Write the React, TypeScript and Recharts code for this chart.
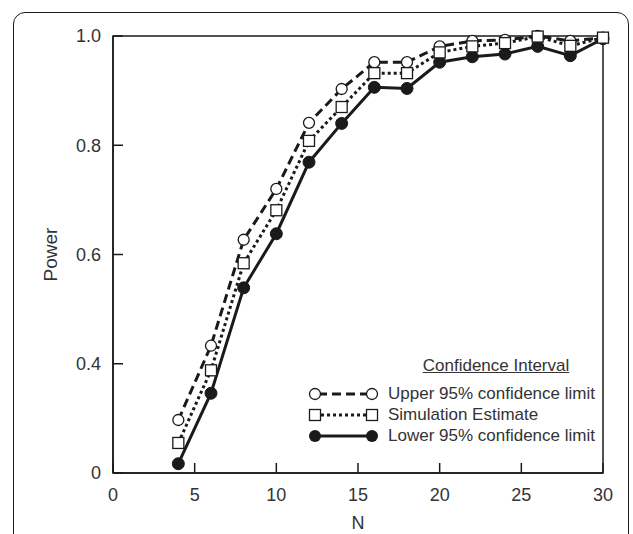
import { Line, LineChart, ReferenceArea, XAxis, YAxis } from 'recharts'

// sample sizes
const N = [4, 6, 8, 10, 12, 14, 16, 18, 20, 22, 24, 26, 28, 30]
// power values; the printed axis has equal spacing from "0" to 0.4, so the
// bottom gridline is stored as 0.2 and labelled "0" like the original figure
const UPPER = [0.297, 0.433, 0.627, 0.72, 0.841, 0.903, 0.952, 0.952, 0.981, 0.991, 0.993, 1.0, 0.991, 0.997]
const ESTIMATE = [0.255, 0.388, 0.584, 0.681, 0.808, 0.87, 0.932, 0.932, 0.97, 0.981, 0.987, 0.999, 0.982, 0.997]
const LOWER = [0.217, 0.346, 0.539, 0.638, 0.769, 0.84, 0.906, 0.904, 0.952, 0.962, 0.967, 0.981, 0.964, 0.995]

const X_TICKS = [0, 5, 10, 15, 20, 25, 30]
const Y_TICKS = [0.2, 0.4, 0.6, 0.8, 1.0]
const Y_LABELS = ['0', '0.4', '0.6', '0.8', '1.0']

const SERIES_NAMES = ['Upper 95% confidence limit', 'Simulation Estimate', 'Lower 95% confidence limit']

const FONT = '"Liberation Sans", Arial, Helvetica, sans-serif'
const INK = '#1a1a1a'
const TEXT = '#333'

const data = N.map((n, i) => ({ n, upper: UPPER[i], estimate: ESTIMATE[i], lower: LOWER[i] }))

function XTick(props: any) {
  const { x, y, payload } = props
  const axisY = y - 15
  return (
    <g>
      <line x1={x} x2={x} y1={axisY} y2={axisY - 10} stroke={INK} strokeWidth={1.5} />
      <text x={x} y={y} dy="0.71em" textAnchor="middle" fill={TEXT} fontSize={18} fontFamily={FONT}>
        {payload.value}
      </text>
    </g>
  )
}

function YTick(props: any) {
  const { x, y, index } = props
  const axisX = x + 12
  return (
    <g>
      <line x1={axisX} x2={axisX + 10} y1={y} y2={y} stroke={INK} strokeWidth={1.5} />
      <text x={x} y={y} dy="0.355em" textAnchor="end" fill={TEXT} fontSize={18} fontFamily={FONT}>
        {Y_LABELS[index]}
      </text>
    </g>
  )
}

const openCircle = (p: any) => (
  <circle key={`u${p.index}`} cx={p.cx} cy={p.cy} r={5.5} fill="#fff" stroke={INK} strokeWidth={1.3} />
)
const openSquare = (p: any) => (
  <rect key={`e${p.index}`} x={p.cx - 5.5} y={p.cy - 5.5} width={11} height={11} fill="#fff" stroke={INK} strokeWidth={1.3} />
)
const filledCircle = (p: any) => (
  <circle key={`l${p.index}`} cx={p.cx} cy={p.cy} r={6} fill={INK} stroke={INK} strokeWidth={1} />
)

function LegendSample({ kind }: { kind: number }) {
  return (
    <svg width={72} height={16} style={{ display: 'block' }}>
      {kind === 0 && (
        <>
          <line x1={7} x2={64} y1={8} y2={8} stroke={INK} strokeWidth={3} strokeDasharray="9 5" strokeDashoffset={-3} />
          <circle cx={7} cy={8} r={5.5} fill="#fff" stroke={INK} strokeWidth={1.3} />
          <circle cx={64} cy={8} r={5.5} fill="#fff" stroke={INK} strokeWidth={1.3} />
        </>
      )}
      {kind === 1 && (
        <>
          <line x1={7} x2={64} y1={8} y2={8} stroke={INK} strokeWidth={3} strokeDasharray="3 3" />
          <rect x={1.5} y={2.5} width={11} height={11} fill="#fff" stroke={INK} strokeWidth={1.3} />
          <rect x={58.5} y={2.5} width={11} height={11} fill="#fff" stroke={INK} strokeWidth={1.3} />
        </>
      )}
      {kind === 2 && (
        <>
          <line x1={7} x2={64} y1={8} y2={8} stroke={INK} strokeWidth={3} />
          <circle cx={7} cy={8} r={6} fill={INK} />
          <circle cx={64} cy={8} r={6} fill={INK} />
        </>
      )}
    </svg>
  )
}

function ChartLegend() {
  return (
    <div style={{ position: 'absolute', left: 308, top: 356, fontFamily: FONT, fontSize: 17, color: TEXT }}>
      <div style={{ textDecoration: 'underline', textAlign: 'center', width: 224, marginLeft: 76, lineHeight: '20px', marginBottom: 7 }}>
        Confidence Interval
      </div>
      {SERIES_NAMES.map((name, i) => (
        <div key={name} style={{ display: 'flex', alignItems: 'center', height: 21 }}>
          <LegendSample kind={i} />
          <span style={{ marginLeft: 8, whiteSpace: 'nowrap' }}>{name}</span>
        </div>
      ))}
    </div>
  )
}

export default function App() {
  return (
    <div style={{ position: 'fixed', left: 0, top: 0, width: 633, height: 534, overflow: 'hidden', background: '#fff' }}>
      <div
        style={{
          position: 'absolute',
          left: 13,
          top: 12,
          width: 614,
          height: 600,
          border: `1.5px solid ${INK}`,
          borderRadius: 12,
        }}
      />
      <div style={{ position: 'absolute', left: 0, top: 0 }}>
        <LineChart width={633} height={534} data={data} margin={{ top: 36, right: 30, bottom: 31, left: 33 }}>
          <XAxis
            dataKey="n"
            type="number"
            domain={[0, 30]}
            ticks={X_TICKS}
            interval={0}
            height={30}
            tickSize={0}
            tickMargin={15}
            tickLine={false}
            axisLine={{ stroke: INK, strokeWidth: 1.5 }}
            tick={XTick}
            label={{ value: 'N', position: 'bottom', offset: 13, fill: TEXT, fontSize: 18, fontFamily: FONT }}
          />
          <YAxis
            type="number"
            domain={[0.2, 1]}
            ticks={Y_TICKS}
            interval={0}
            width={80}
            tickSize={0}
            tickMargin={12}
            tickLine={false}
            axisLine={{ stroke: INK, strokeWidth: 1.5 }}
            tick={YTick}
            label={{ value: 'Power', angle: -90, position: 'insideLeft', offset: 17, fill: TEXT, fontSize: 19, fontFamily: FONT, style: { textAnchor: 'middle' } }}
          />
          <ReferenceArea x1={0} x2={30} y1={0.2} y2={1} fill="none" stroke={INK} strokeWidth={1.5} />
          <Line dataKey="lower" name={SERIES_NAMES[2]} type="linear" stroke={INK} strokeWidth={3} dot={filledCircle} isAnimationActive={false} />
          <Line dataKey="upper" name={SERIES_NAMES[0]} type="linear" stroke={INK} strokeWidth={3} strokeDasharray="9 5" dot={openCircle} isAnimationActive={false} />
          <Line dataKey="estimate" name={SERIES_NAMES[1]} type="linear" stroke={INK} strokeWidth={3} strokeDasharray="3 3" dot={openSquare} isAnimationActive={false} />
        </LineChart>
      </div>
      <ChartLegend />
    </div>
  )
}
